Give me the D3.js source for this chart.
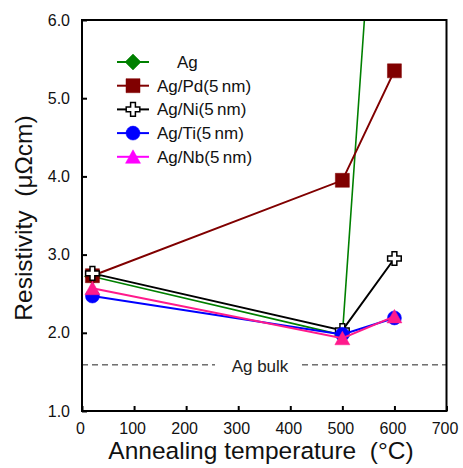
<!DOCTYPE html>
<html>
<head>
<meta charset="utf-8">
<script src="https://cdn.jsdelivr.net/npm/d3@7"></script>
<style>
  html, body { margin: 0; padding: 0; background: #fff; }
  svg { display: block; font-family: Arial, "Liberation Sans", sans-serif; }
  text { white-space: pre; }
</style>
</head>
<body>
<svg id="chart" width="463" height="468"></svg>
<script>
// ---- data ----
const temps = [20, 500, 600];
const agVals = [2.72, 1.97, 11.5];
const pdVals = [2.73, 3.95, 5.35];
const niVals = [2.76, 2.03, 2.95];
const tiVals = [2.47, 1.98, 2.19];
const nbVals = [2.57, 1.93, 2.21];
const seriesNames = ["Ag", "Ag/Pd(5\u2009nm)", "Ag/Ni(5\u2009nm)", "Ag/Ti(5\u2009nm)", "Ag/Nb(5\u2009nm)"];
const agBulk = 1.59;
const xTicks = [0, 100, 200, 300, 400, 500, 600, 700];
const yTicks = [1.0, 2.0, 3.0, 4.0, 5.0, 6.0];

// ---- styles ----
const series = [
  { name: seriesNames[0], vals: agVals, color: "#008000", legendColor: "#008000", shape: "diamond", fill: "#008000", stroke: "#008000", lw: 1.6 },
  { name: seriesNames[1], vals: pdVals, color: "#800000", legendColor: "#800000", shape: "square", fill: "#800000", stroke: "#800000", lw: 2 },
  { name: seriesNames[2], vals: niVals, color: "#000000", legendColor: "#000000", shape: "cross", fill: "#ffffff", stroke: "#000000", lw: 2 },
  { name: seriesNames[3], vals: tiVals, color: "#0000ff", legendColor: "#0000ff", shape: "circle", fill: "#0000ff", stroke: "#0000ff", lw: 2 },
  { name: seriesNames[4], vals: nbVals, color: "#ff1a8c", legendColor: "#ff00ff", shape: "triangle", fill: "#ff1a8c", stroke: "#ff1a8c", lw: 2 }
];

function symbolPath(shape) {
  switch (shape) {
    case "diamond": return "M0,-8L8,0L0,8L-8,0Z";
    case "square": return "M-7,-7H7V7H-7Z";
    case "cross": { const a = 2.4, e = 6.8;
      return `M${-a},${-e}H${a}V${-a}H${e}V${a}H${a}V${e}H${-a}V${a}H${-e}V${-a}H${-a}Z`; }
    case "circle": return "M7,0A7,7 0 1,1 -7,0A7,7 0 1,1 7,0Z";
    case "triangle": return "M0,-7L7.5,6.5L-7.5,6.5Z";
  }
}

const svg = d3.select("#chart");
const x = d3.scaleLinear().domain([0, 700]).range([82, 446.5]);
const y = d3.scaleLinear().domain([1, 6]).range([411, 20]);

svg.append("defs").append("clipPath").attr("id", "plotclip")
  .append("rect").attr("x", x(0)).attr("y", y(6)).attr("width", x(700) - x(0)).attr("height", y(1) - y(6));

// Ag bulk dashed line
svg.append("line")
  .attr("x1", x(0)).attr("x2", x(700)).attr("y1", y(agBulk)).attr("y2", y(agBulk))
  .attr("stroke", "#222").attr("stroke-width", 1).attr("stroke-dasharray", "6,4");
svg.append("rect").attr("x", 215).attr("y", y(agBulk) - 3).attr("width", 87).attr("height", 6).attr("fill", "#fff");
svg.append("text").attr("x", 260).attr("y", y(agBulk) + 7)
  .attr("text-anchor", "middle").attr("font-size", 17).attr("fill", "#222").text("Ag bulk");

// Series
const plot = svg.append("g").attr("clip-path", "url(#plotclip)");
const line = d3.line().x((d, i) => x(temps[i])).y(d => y(d));
series.forEach(s => {
  const g = plot.append("g");
  g.append("path").attr("d", line(s.vals)).attr("fill", "none")
    .attr("stroke", s.color).attr("stroke-width", s.lw);
  g.selectAll("path.m").data(s.vals).enter().append("path").attr("class", "m")
    .attr("d", symbolPath(s.shape))
    .attr("transform", (d, i) => `translate(${x(temps[i])},${y(d)})`)
    .attr("fill", s.fill).attr("stroke", s.stroke)
    .attr("stroke-width", s.shape === "cross" ? 1.5 : 0.5);
});

// Axes
const xAxis = d3.axisBottom(x).tickValues(xTicks).tickFormat(d3.format("d"))
  .tickSizeInner(-5).tickSizeOuter(0).tickPadding(12);
const gx = svg.append("g").attr("transform", `translate(0,${y(1)})`).call(xAxis);
gx.select(".domain").remove();
gx.selectAll(".tick line").attr("stroke", "#000").attr("stroke-width", 2);
gx.selectAll(".tick text").attr("font-size", 16).attr("font-family", "Arial, 'Liberation Sans', sans-serif")
  .attr("fill", "#111").attr("dx", -2);

const yAxis = d3.axisLeft(y).tickValues(yTicks).tickFormat(d3.format(".1f"))
  .tickSizeInner(-5).tickSizeOuter(0).tickPadding(12);
const gy = svg.append("g").attr("transform", `translate(${x(0)},0)`).call(yAxis);
gy.select(".domain").remove();
gy.selectAll(".tick line").attr("stroke", "#000").attr("stroke-width", 2);
gy.selectAll(".tick text").attr("font-size", 16).attr("font-family", "Arial, 'Liberation Sans', sans-serif")
  .attr("fill", "#111");

// Frame
svg.append("rect").attr("x", x(0)).attr("y", y(6)).attr("width", x(700) - x(0)).attr("height", y(1) - y(6))
  .attr("fill", "none").attr("stroke", "#000").attr("stroke-width", 2);

// Axis titles
svg.append("text").attr("x", 261).attr("y", 459).attr("text-anchor", "middle")
  .attr("font-size", 24.5).attr("fill", "#111").text("Annealing temperature  (\u00B0C)");
svg.append("text").attr("transform", "translate(32,218) rotate(-90)").attr("text-anchor", "middle")
  .attr("font-size", 24.5).attr("fill", "#111").text("Resistivity  (\u03BC\u03A9cm)");

// Legend
const legend = svg.append("g");
series.forEach((s, i) => {
  const cy = 62 + i * 23.7;
  const g = legend.append("g");
  g.append("line").attr("x1", 117).attr("x2", 149).attr("y1", cy).attr("y2", cy)
    .attr("stroke", s.legendColor).attr("stroke-width", 2);
  g.append("path").attr("d", symbolPath(s.shape)).attr("transform", `translate(133,${cy})`)
    .attr("fill", s.shape === "cross" ? "#fff" : s.legendColor)
    .attr("stroke", s.shape === "cross" ? "#000" : s.legendColor)
    .attr("stroke-width", s.shape === "cross" ? 1.5 : 0.5);
  g.append("text").attr("x", i === 0 ? 177 : 157).attr("y", cy + 6)
    .attr("font-size", 17).attr("fill", "#111").text(s.name);
});
</script>
</body>
</html>
